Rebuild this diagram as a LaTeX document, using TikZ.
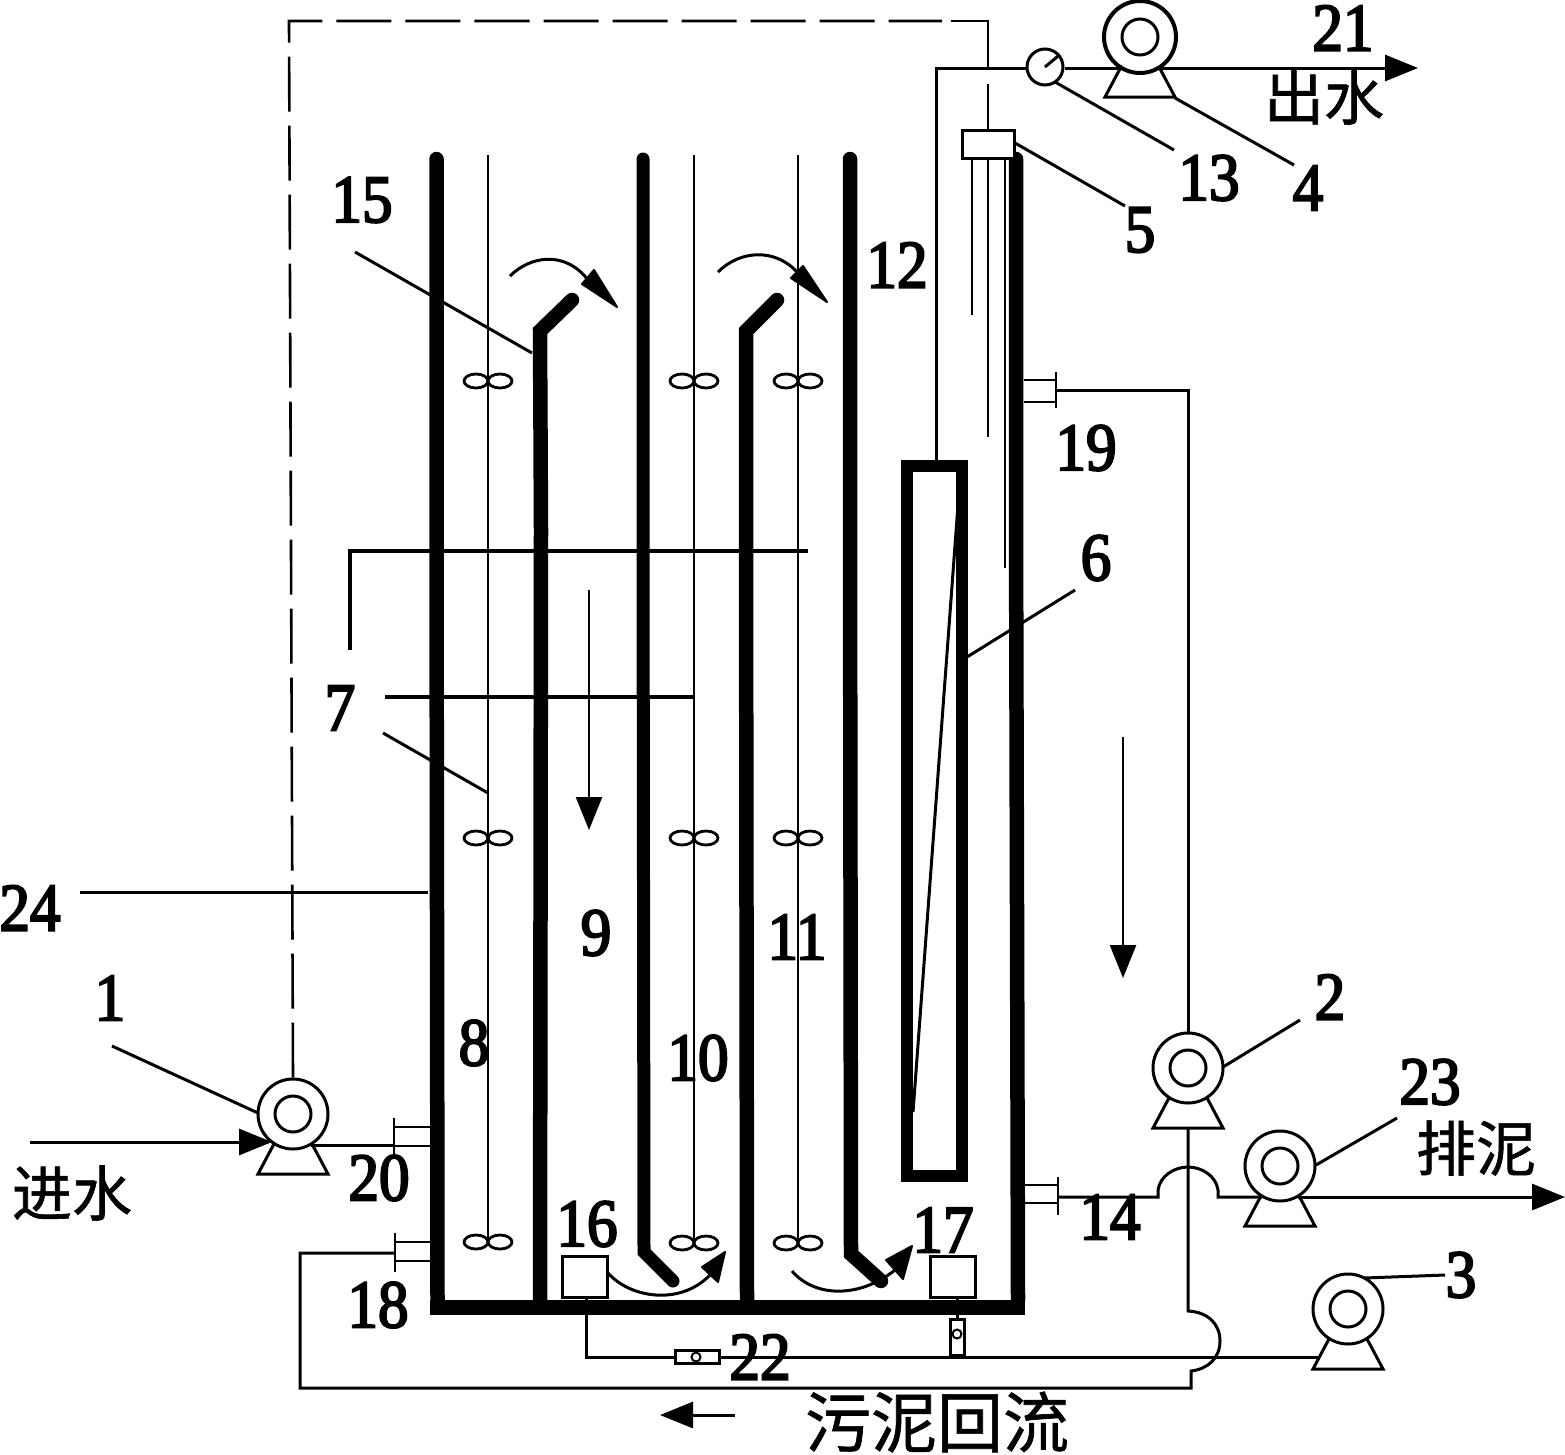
\documentclass[tikz,border=0pt]{standalone}
\usepackage{fontspec}
\setmainfont{Liberation Serif}
\newfontfamily\numf{Liberation Serif}[FakeStretch=0.9,FakeBold=3]
\newfontfamily\cjkf{Noto Sans CJK SC}[FakeBold=1]
\usetikzlibrary{arrows.meta,shapes.geometric}
\tikzset{
  wall/.style={line width=14.5pt,line cap=round,line join=miter},
  pipe/.style={line width=3pt,line join=miter},
  thinl/.style={line width=2.8pt},
  leader/.style={line width=3pt},
  shaft/.style={line width=2.4pt},
  hshaft/.style={line width=3.4pt},
  lab/.style={font=\numf\fontsize{68}{68}\selectfont,inner sep=0pt},
  cjk/.style={font=\cjkf\fontsize{60}{60}\selectfont,inner sep=0pt},
  pumpo/.style={circle,draw,line width=3pt,fill=white,inner sep=0pt,minimum size=70pt},
  pumpi/.style={circle,draw,line width=3pt,fill=white,inner sep=0pt,minimum size=36pt},
  blade/.style={ellipse,draw,line width=2.8pt,inner sep=0pt,minimum width=24pt,minimum height=14pt},
  boxn/.style={rectangle,draw,line width=3pt,fill=white,inner sep=0pt},
  nozzle/.style={line width=2.8pt},
  arr/.style={-{Triangle[length=33pt,width=26pt]},line width=3pt},
  head/.style={fill=black,draw=black,line width=2pt,line join=round},
}
\newcommand\pump[1]{%
  \draw[line width=3pt,line join=miter] ([shift={(-18,28)}]#1.center) -- ([shift={(-35,60)}]#1.center) -- ([shift={(35,60)}]#1.center) -- ([shift={(18,28)}]#1.center);
  \node[pumpo] (#1o) at (#1.center) {};
  \node[pumpi] (#1i) at (#1.center) {};
}
\newcommand\impeller[3]{%
  \node[blade] (#1a) at (#2-12,#3) {};
  \node[blade] (#1b) at (#2+12,#3) {};
}
\begin{document}
\begin{tikzpicture}[x=1pt,y=-1pt]
\useasboundingbox (0,0) rectangle (1565,1454);
% --- named fixed points
\coordinate (p1) at (293,1114);
\coordinate (p2) at (1188,1068);
\coordinate (p23) at (1280,1166);
\coordinate (p3) at (1348,1309);
\coordinate (p4) at (1140,37);
\pump{p1}\pump{p2}\pump{p23}\pump{p3}\pump{p4}
\node[pumpo,line width=4pt,minimum size=72pt] (p4x) at (p4) {};
\node[pumpi] (p4y) at (p4) {};
\node[circle,draw,line width=3pt,fill=white,inner sep=0pt,minimum size=36pt] (gauge) at (1045,67) {};
\draw[line width=3pt] (gauge.center) -- (gauge.40);
% --- reactor walls
\draw[wall] (436.5,159) -- (436.5,530) -- (437.5,1300);
\draw[wall,line width=13pt] (643,159) -- (643,520) -- (644,1252) -- (673,1281);
\draw[wall] (850,159) -- (850,520) -- (851,1254) -- (881,1281);
\draw[wall] (1016,159) -- (1016,520) -- (1018,1300);
\draw[wall] (540,1300) -- (541,530) -- (540,331) -- (572,300);
\draw[wall] (747,1300) -- (746,530) -- (746,331) -- (777,300);
\draw[line width=15pt] (430,1307.5) -- (1025,1307.5);
% --- stirrer shafts and impellers
\draw[shaft] (488,155) -- (488,1243);
\draw[shaft] (694,155) -- (694,1243);
\draw[shaft] (798,155) -- (798,1243);
\impeller{ia}{488}{381}\impeller{ib}{488}{838}\impeller{ic}{488}{1242}
\impeller{id}{694}{381}\impeller{ie}{694}{838}\impeller{if}{694}{1243}
\impeller{ig}{798}{381}\impeller{ih}{798}{838}\impeller{ii}{798}{1243}
\draw[hshaft,line join=miter] (350,650) -- (350,551) -- (808,551);
\draw[hshaft] (385,697) -- (694,697);
% --- membrane module
\node[rectangle,draw,line width=12.5pt,inner sep=0pt,minimum width=55pt,minimum height=710pt] (mem) at (934.5,821) {};
\draw[line width=3pt] (958,505) -- (913,1112);
% --- box 5 and lines
\node[boxn,minimum width=52pt,minimum height=28pt] (box5) at (988,144) {};
\draw[thinl] (972,158) -- (972,315);
\draw[thinl] (988,158) -- (988,437);
\draw[thinl] (1005,158) -- (1005,568);
% --- aeration boxes
\node[boxn,minimum width=45pt,minimum height=41pt] (box16) at (585,1277) {};
\node[boxn,minimum width=45pt,minimum height=41pt] (box17) at (953,1277) {};
\node[boxn,minimum width=44pt,minimum height=13pt] (v22) at (697,1357) {};
\node[circle,draw,line width=2pt,fill=white,inner sep=0pt,minimum size=9pt] (v22c) at (696,1357) {};
\node[boxn,minimum width=14pt,minimum height=36pt] (v17) at (957,1337) {};
\node[circle,draw,line width=2pt,fill=white,inner sep=0pt,minimum size=9pt] (v17c) at (957,1334) {};
% --- nozzles
\coordinate (n20) at (394,1144);
\draw[nozzle] (394,1118) -- (394,1155);
\draw[nozzle] (394,1127) -- (430,1127);
\draw[nozzle] (394,1146) -- (430,1146);
\coordinate (n18) at (395,1253);
\draw[nozzle] (395,1233) -- (395,1272);
\draw[nozzle] (395,1242) -- (430,1242);
\draw[nozzle] (395,1261) -- (430,1261);
\coordinate (n19) at (1056,390);
\draw[nozzle] (1056,372) -- (1056,408);
\draw[nozzle] (1024,380) -- (1056,380);
\draw[nozzle] (1024,402) -- (1056,402);
\coordinate (n14) at (1058,1197);
\draw[nozzle] (1058,1177) -- (1058,1215);
\draw[nozzle] (1025,1185) -- (1058,1185);
\draw[nozzle] (1025,1203) -- (1058,1203);
% --- pipes
\coordinate (in) at (30,1142);
\draw[arr] (in) -- (272,1142);
\draw[pipe] (p1o.-60) -- (p1o.-60 -| n20);
\draw[pipe] (n18) -- (300,1253) -- (300,1388) -- (1191,1388) -- (1191,1371)
  .. controls (1208,1369) and (1220,1358) .. (1220,1341)
  .. controls (1220,1324) and (1208,1312) .. (1188,1311)
  -- ([shift={(0,59)}]p2.center);
\draw[pipe] (n19) -- (1188,390) -- (p2o.north);
\draw[pipe] (n14) -- (1158,1197) -- (1158,1190)
  .. controls (1160,1176) and (1174,1167) .. (1188,1167)
  .. controls (1202,1167) and (1216,1176) .. (1218,1190)
  -- (1218,1197) -- (p23o.-120 |- 1218,1197);
\coordinate (out23) at (1565,1197);
\draw[arr] (p23o.-60 |- out23) -- (out23);
\draw[pipe] (586,1297) -- (586,1357) -- (v22.west);
\draw[pipe] (v22.east) -- ([shift={(-28,48)}]p3.center);
\draw[pipe] (957,1298) -- (v17.north);
\draw[pipe] (936,461) -- (936,68) -- (gauge.west |- 936,68);
\draw[pipe] (gauge.east |- 936,68) -- (p4o.-120 |- 936,68);
\coordinate (out4) at (1418,68);
\draw[arr] (p4o.-60 |- out4) -- (out4);
% --- dashed control line
\draw[line width=2.6pt,dash pattern=on 55pt off 14pt] (p1o.north) -- (289,21) -- (942,21);
\draw[line width=2.6pt] (951,21) -- (988,21) -- (988,68);
\draw[line width=2.6pt] (988,84) -- (box5.north);
% --- flow arrows
\coordinate (fa) at (589,590); \coordinate (fb) at (589,830);
\draw[arr,line width=2.6pt] (fa) -- (fb);
\coordinate (fc) at (1123,737); \coordinate (fd) at (1123,978);
\draw[arr,line width=2.6pt] (fc) -- (fd);
\coordinate (fe) at (735,1415); \coordinate (ff) at (660,1415);
\draw[arr] (fe) -- (ff);
% --- curved arrows
\draw[line width=3pt] (510,276) .. controls (530,256) and (565,250) .. (588,280);
\fill[head] (582,284) -- (594,270) -- (617,307) -- cycle;
\draw[line width=3pt] (718,272) .. controls (740,250) and (775,248) .. (797,272);
\fill[head] (791,278) -- (803,266) -- (827,302) -- cycle;
\draw[line width=3pt] (608,1273) .. controls (630,1298) and (680,1306) .. (710,1275);
\fill[head] (702,1267) -- (718,1282) -- (725,1252) -- cycle;
\draw[line width=3pt] (792,1271) .. controls (815,1298) and (860,1298) .. (895,1270);
\fill[head] (886,1260) -- (903,1279) -- (912,1246) -- cycle;
% --- leaders
\foreach \a/\b/\c/\d in {383/733/488/793, 80/892/428/892, 355/252/532/353, 967/657/1075/590,
   112/1046/258/1113, 1223/1067/1300/1020, 1316/1165/1397/1118, 1364/1278/1445/1275,
   1055/82/1174/150, 1175/98/1294/165, 1015/143/1125/206}
  \draw[leader] (\a,\b) -- (\c,\d);
% --- labels
\node[lab] (l1) at (110,998) {1};
\node[lab] (l2) at (1330,997) {2};
\node[lab] (l3) at (1461,1275) {3};
\node[lab] (l4) at (1308,188) {4};
\node[lab] (l5) at (1140,230) {5};
\node[lab] (l6) at (1096,558) {6};
\node[lab] (l7) at (340,708) {7};
\node[lab] (l8) at (474,1043) {8};
\node[lab] (l9) at (596,933) {9};
\node[lab] (l10) at (698,1058) {10};
\node[lab] (l11) at (797,937) {11};
\node[lab] (l12) at (897,265) {12};
\node[lab] (l13) at (1209,178) {13};
\node[lab] (l14) at (1110,1217) {14};
\node[lab] (l15) at (362,200) {15};
\node[lab] (l16) at (587,1224) {16};
\node[lab] (l17) at (943,1230) {17};
\node[lab] (l18) at (378,1305) {18};
\node[lab] (l19) at (1086,448) {19};
\node[lab] (l20) at (379,1178) {20};
\node[lab] (l21) at (1343,28) {21};
\node[lab] (l22) at (760,1357) {22};
\node[lab] (l23) at (1430,1082) {23};
\node[lab] (l24) at (30,908) {24};
\node[cjk] (t1) at (1324,97) {出水};
\node[cjk] (t2) at (72,1193) {进水};
\node[cjk] (t3) at (1476,1148) {排泥};
\node[cjk,font=\cjkf\fontsize{66}{66}\selectfont] (t4) at (937,1422) {污泥回流};
\end{tikzpicture}
\end{document}
